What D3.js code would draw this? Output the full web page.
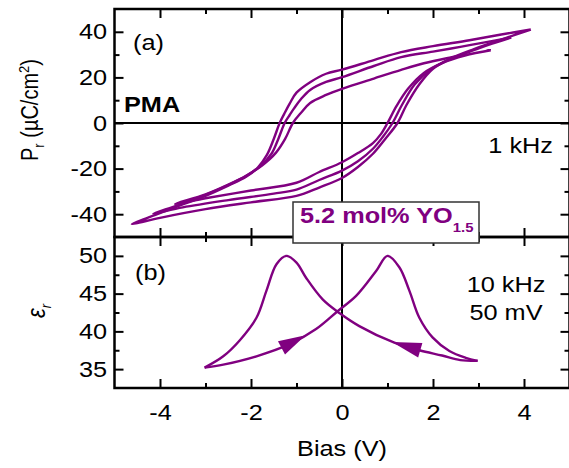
<!DOCTYPE html>
<meta charset="utf-8">
<style>
  body { margin: 0; background: #fff; }
  text { font-family: "Liberation Sans", Arial, sans-serif; }
</style>
<div id="chart"></div>
<script src="https://d3js.org/d3.v7.min.js"></script>
<script>

// ---- data ----
// panel (a): three P-E loops, each listed from +Vmax round the loop back to +Vmax
var loopOuter = [
  [4.15,41.0],[3.5,38.8],[2.8,36.3],[2.0,33.7],[1.3,31.1],[0.7,27.6],[0,23.4],[-0.35,21.6],[-0.7,17.9],
  [-1.0,13.3],[-1.15,8.5],[-1.27,4.0],[-1.37,0],[-1.5,-7],[-1.65,-14],[-1.85,-19.5],[-2.1,-23.5],
  [-2.5,-27.5],[-3.0,-32.0],[-3.6,-36.5],[-4.1,-40.3],[-4.62,-44.3],
  [-4.0,-41.6],[-3.0,-37.8],[-2.0,-34.8],[-1.0,-32.0],[-0.5,-28.3],[0,-24.1],[0.35,-19.3],[0.68,-13.5],
  [0.95,-7.0],[1.22,0],[1.42,8.0],[1.7,17.0],[2.0,23.8],[2.4,28.4],[2.9,32.4],[3.5,36.6],[4.15,41.0]
];
var loopMiddle = [
  [3.72,37.5],[3.2,35.6],[2.6,33.4],[2.0,31.3],[1.3,28.9],[0.7,25.0],[0,20.1],[-0.35,18.0],[-0.7,14.5],
  [-0.9,10.5],[-1.05,6.5],[-1.15,3.5],[-1.26,0],[-1.4,-7],[-1.55,-13.5],[-1.8,-19],[-2.1,-23.2],
  [-2.5,-27.2],[-3.0,-31.5],[-3.6,-36.0],[-4.15,-39.8],
  [-3.5,-37.0],[-2.5,-33.8],[-1.5,-31.0],[-1.0,-29.2],[-0.5,-25.0],[0,-20.9],[0.35,-16.8],[0.68,-11.3],
  [0.9,-6.0],[1.11,0],[1.32,8.0],[1.6,17.0],[1.95,23.5],[2.35,27.8],[2.85,31.6],[3.3,34.8],[3.72,37.5]
];
var loopInner = [
  [3.27,31.9],[2.8,30.2],[2.3,28.4],[1.8,26.2],[1.3,23.3],[0.7,19.5],[0,15.0],[-0.35,12.3],[-0.7,8.8],
  [-0.9,4.5],[-1.08,0],[-1.25,-7],[-1.45,-13],[-1.75,-18.5],[-2.1,-23.0],[-2.5,-27.0],[-3.0,-31.3],
  [-3.67,-35.5],
  [-3.0,-33.0],[-2.0,-29.6],[-1.0,-26.2],[-0.5,-21.5],[0,-17.2],[0.35,-13.2],[0.68,-8.8],[0.85,-5.0],
  [1.0,0],[1.2,7.5],[1.45,15.0],[1.8,22.0],[2.2,26.3],[2.7,29.6],[3.27,31.9]
];
var loopsA = [loopOuter, loopMiddle, loopInner];

// panel (b): eps_r, sweep up (-3 -> +3) then sweep down (+3 -> -3)
var sweepUp = [
  [-3.02,35.2],[-2.61,35.6],[-1.88,36.7],[-1.15,38.3],[-0.57,40.3],[-0.09,42.7],[0.31,44.7],
  [0.75,48.0],[1.0,50.0],[1.26,48.5],[1.48,45.4],[1.70,41.8],[1.99,39.2],[2.36,37.4],[2.72,36.5],[2.98,36.1]
];
var sweepDown = [
  [2.98,36.1],[2.6,36.2],[2.2,36.8],[1.70,37.5],[1.15,38.5],[0.38,40.7],[-0.05,42.4],[-0.42,44.2],
  [-0.79,47.1],[-1.0,49.1],[-1.22,50.0],[-1.44,48.9],[-1.66,45.4],[-1.88,41.8],[-2.25,38.8],
  [-2.61,36.7],[-3.02,35.2]
];
// arrow heads: [base V, base eps, tip V, tip eps]
var arrowsB = [[-1.33,37.8,-0.80,39.5],[1.72,37.5,1.10,38.6]];

var xTicks = [-4,-2,0,2,4];
var xMinor = [-3,-1,1,3];
var yTicksA = [-40,-20,0,20,40];
var yMinorA = [-30,-10,10,30];
var yTicksB = [35,40,45,50];
var yMinorB = [37.5,42.5,47.5];

var purple = "#800080";

// ---- layout ----
var W = 569, H = 468;
var svg = d3.select("#chart").append("svg")
    .attr("width", W).attr("height", H);

var x = d3.scaleLinear().domain([-5,5]).range([114.5,569.5]);
var ya = d3.scaleLinear().domain([-50,50]).range([237,9]);
var yb = d3.scaleLinear().domain([32.5,52.5]).range([388,237]);

var fs = 22, sx = 1.15;   // text in the original is a bit wide

// crosshairs
svg.append("line").attr("x1", x(-5)).attr("x2", x(5)).attr("y1", ya(0)).attr("y2", ya(0))
  .attr("stroke","#000").attr("stroke-width",2);
svg.append("line").attr("x1", x(0)).attr("x2", x(0)).attr("y1", ya(50)).attr("y2", yb(32.5))
  .attr("stroke","#000").attr("stroke-width",2);

// curves
var lineA = d3.line().x(function(d){ return x(d[0]); }).y(function(d){ return ya(d[1]); })
  .curve(d3.curveCatmullRom.alpha(0.5));
svg.append("g").selectAll("path").data(loopsA).enter().append("path")
  .attr("d", lineA).attr("fill","none").attr("stroke",purple).attr("stroke-width",2.4)
  .attr("stroke-linejoin","round");

var lineB = d3.line().x(function(d){ return x(d[0]); }).y(function(d){ return yb(d[1]); })
  .curve(d3.curveCatmullRom.alpha(0.5));
svg.append("g").selectAll("path").data([sweepUp, sweepDown]).enter().append("path")
  .attr("d", lineB).attr("fill","none").attr("stroke",purple).attr("stroke-width",2.4);

svg.append("g").selectAll("path").data(arrowsB).enter().append("path")
  .attr("d", function(d){
    var bx = x(d[0]), by = yb(d[1]), tx = x(d[2]), ty = yb(d[3]);
    var dx = tx-bx, dy = ty-by, L = Math.sqrt(dx*dx+dy*dy);
    var nx = -dy/L*7.5, ny = dx/L*7.5;
    return "M"+tx+","+ty+"L"+(bx+nx)+","+(by+ny)+"L"+(bx-nx)+","+(by-ny)+"Z";
  })
  .attr("fill",purple);

// ---- axes ----
function styleAxis(g){
  g.select(".domain").remove();
  g.selectAll(".tick line").attr("stroke","#000").attr("stroke-width",2);
  g.selectAll("text").attr("font-size",fs).attr("fill","#000")
    .attr("font-family","Liberation Sans, Arial, sans-serif")
    .attr("transform","scale("+sx+",1)");
}
function addAxis(axisFn, scale, vals, size, pos, labels, pad){
  var a = axisFn(scale).tickValues(vals).tickSizeInner(size).tickSizeOuter(0).tickPadding(pad||8);
  if (labels) a.tickFormat(function(d){ return String(d); });
  else a.tickFormat("");
  svg.append("g").attr("transform", pos).call(a).call(styleAxis);
}
// panel a
addAxis(d3.axisLeft, ya, yTicksA, -9, "translate("+x(-5)+",0)", true, 6.5);
addAxis(d3.axisLeft, ya, yMinorA, -5, "translate("+x(-5)+",0)", false);
addAxis(d3.axisRight, ya, yTicksA, -9, "translate("+x(5)+",0)", false);
addAxis(d3.axisRight, ya, yMinorA, -5, "translate("+x(5)+",0)", false);
addAxis(d3.axisTop, x, xTicks, -9, "translate(0,"+ya(50)+")", false);
addAxis(d3.axisTop, x, xMinor, -5, "translate(0,"+ya(50)+")", false);
addAxis(d3.axisBottom, x, xTicks, -9, "translate(0,"+ya(-50)+")", false);
addAxis(d3.axisBottom, x, xMinor, -5, "translate(0,"+ya(-50)+")", false);
// panel b
addAxis(d3.axisLeft, yb, yTicksB, -9, "translate("+x(-5)+",0)", true, 6.5);
addAxis(d3.axisLeft, yb, yMinorB, -5, "translate("+x(-5)+",0)", false);
addAxis(d3.axisRight, yb, yTicksB, -9, "translate("+x(5)+",0)", false);
addAxis(d3.axisRight, yb, yMinorB, -5, "translate("+x(5)+",0)", false);
addAxis(d3.axisTop, x, xTicks, -9, "translate(0,"+yb(52.5)+")", false);
addAxis(d3.axisTop, x, xMinor, -5, "translate(0,"+yb(52.5)+")", false);
addAxis(d3.axisBottom, x, xTicks, -9, "translate(0,"+yb(32.5)+")", true, 16.5);
addAxis(d3.axisBottom, x, xMinor, -5, "translate(0,"+yb(32.5)+")", false);

// frames
svg.append("rect").attr("x", x(-5)).attr("y", ya(50)).attr("width", x(5)-x(-5)).attr("height", ya(-50)-ya(50))
  .attr("fill","none").attr("stroke","#000").attr("stroke-width",2.5);
svg.append("rect").attr("x", x(-5)).attr("y", yb(52.5)).attr("width", x(5)-x(-5)).attr("height", yb(32.5)-yb(52.5))
  .attr("fill","none").attr("stroke","#000").attr("stroke-width",2.5);

// ---- labels ----
function label(px, py, str, anchor, bold){
  return svg.append("text").attr("transform","translate("+px+","+py+") scale("+sx+",1)")
    .attr("font-size",fs).attr("text-anchor",anchor||"start")
    .attr("font-weight",bold ? "bold" : "normal").text(str);
}
label(133, 50, "(a)");
label(124, 112, "PMA", "start", true);
label(553, 153, "1 kHz", "end");
label(135, 280, "(b)");
label(506, 292, "10 kHz", "middle");
label(506, 320, "50 mV", "middle");
label(342, 456, "Bias (V)", "middle");

var pl = svg.append("text").attr("transform","translate(38,110) rotate(-90) scale(1,"+sx+")")
  .attr("font-size",20).attr("text-anchor","middle");
pl.append("tspan").text("P");
pl.append("tspan").attr("font-size",13).attr("dy",5).text("r");
pl.append("tspan").attr("dy",-5).text(" (\u00B5C/cm");
pl.append("tspan").attr("font-size",13).attr("dy",-8).text("2");
pl.append("tspan").attr("dy",8).text(")");

var el = svg.append("text").attr("transform","translate(45,311) rotate(-90) scale(1,"+sx+")")
  .attr("font-size",fs).attr("text-anchor","middle");
el.append("tspan").attr("font-style","italic").text("\u03B5");
el.append("tspan").attr("font-size",13).attr("dy",5).attr("font-style","italic").text("r");

// composition box
svg.append("rect").attr("x",293).attr("y",202).attr("width",186).attr("height",41)
  .attr("fill","#fff").attr("stroke","#333").attr("stroke-width",1.5);
var bt = svg.append("text").attr("transform","translate(300,223) scale("+sx+",1)")
  .attr("font-size",22).attr("font-weight","bold").attr("fill",purple);
bt.append("tspan").text("5.2 mol% YO");
bt.append("tspan").attr("font-size",13).attr("dy",9).text("1.5");

</script>
